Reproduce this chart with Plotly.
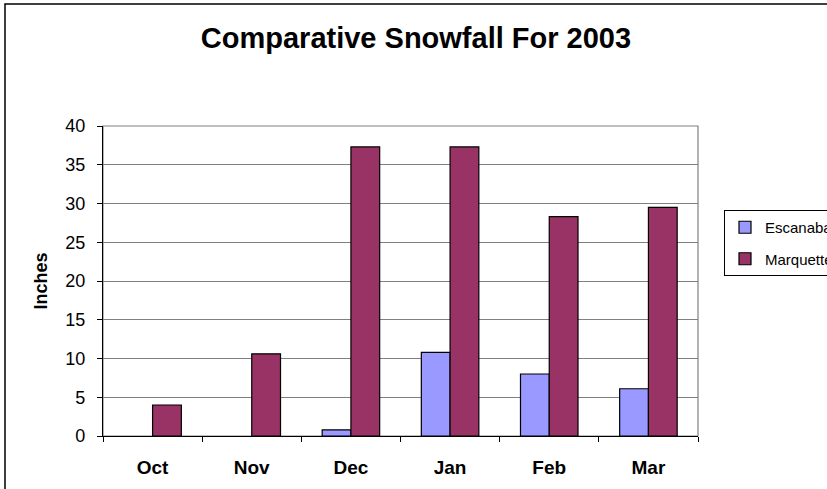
import plotly.graph_objects as go

months = ["Oct", "Nov", "Dec", "Jan", "Feb", "Mar"]
escanaba = [None, None, 0.8, 10.8, 8.0, 6.1]
marquette = [4.0, 10.6, 37.3, 37.3, 28.3, 29.5]
y_ticks = [0, 5, 10, 15, 20, 25, 30, 35, 40]

W, H = 827, 489
L, R, T, B = 103, 129, 126, 53
pw, ph = W - L - R, H - T - B

def px_x(p):
    return (p - L) / pw

def px_y(p):
    return (H - B - p) / ph

fig = go.Figure()
fig.add_trace(go.Bar(name="Escanaba", x=months, y=escanaba,
                     marker=dict(color="#9999FF", line=dict(color="black", width=1.2)),
                     legendgroup="a"))
fig.add_trace(go.Bar(name="Marquette", x=months, y=marquette,
                     marker=dict(color="#993366", line=dict(color="black", width=1.2)),
                     legendgroup="b"))

fig.update_layout(
    width=W, height=H,
    margin=dict(l=L, r=R, t=T, b=B, autoexpand=False),
    paper_bgcolor="white", plot_bgcolor="white",
    barmode="group", bargap=0.42, bargroupgap=0,
    font=dict(family="Arial, Liberation Sans, sans-serif", color="black"),
    title=dict(text="<b>Comparative Snowfall For 2003</b>", x=0.503, xanchor="center",
               y=1 - 38 / H, yanchor="middle", yref="container",
               font=dict(size=29, color="black")),
    xaxis=dict(showline=True, linecolor="black", linewidth=1.2,
               ticks="outside", ticklen=5, tickcolor="black", tickwidth=1,
               tickson="boundaries", ticklabelstandoff=14,
               tickfont=dict(size=19, color="black", family="Arial, Liberation Sans, sans-serif"),
               tickprefix="<b>", ticksuffix="</b>",
               showgrid=False, fixedrange=True),
    yaxis=dict(range=[0, 40], tickvals=y_ticks, showline=True, linecolor="black", linewidth=1.2,
               ticks="outside", ticklen=5, tickcolor="black", tickwidth=1,
               ticklabelstandoff=8,
               tickfont=dict(size=18, color="black"),
               showgrid=True, gridcolor="#808080", gridwidth=1,
               zeroline=False, fixedrange=True,
               title=dict(text="<b>Inches</b>", font=dict(size=18, color="black"), standoff=12)),
    legend=dict(x=px_x(724), y=px_y(210), xanchor="left", yanchor="top",
                bgcolor="white", bordercolor="black", borderwidth=1,
                font=dict(size=15, color="black"),
                traceorder="grouped", tracegroupgap=9, itemwidth=30),
    shapes=[
        dict(type="rect", xref="paper", yref="paper", x0=0, x1=1, y0=0, y1=1,
             line=dict(color="#808080", width=1.2), layer="below"),
        dict(type="rect", xref="paper", yref="paper",
             x0=px_x(5), x1=px_x(W + 20), y0=px_y(H + 20), y1=px_y(4),
             line=dict(color="black", width=1.5), layer="below"),
    ],
)

fig.write_html("out.html", config={"displayModeBar": False},
               post_script="document.body.style.margin='0';document.body.style.overflow='hidden';")
